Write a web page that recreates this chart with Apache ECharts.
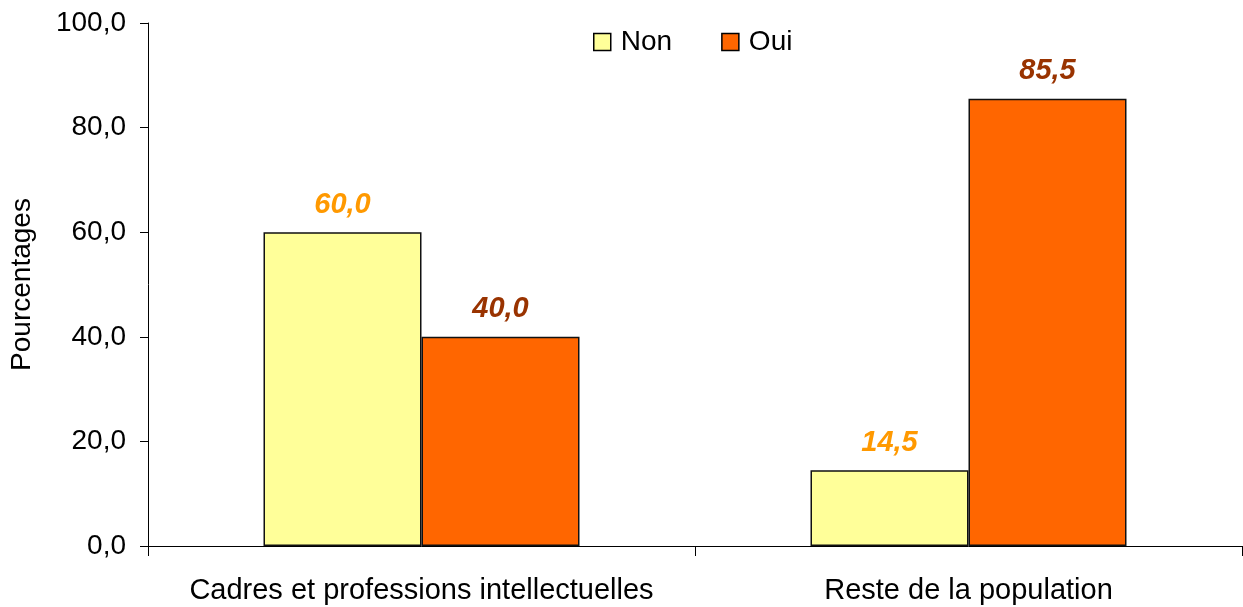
<!DOCTYPE html>
<html>
<head>
<meta charset="utf-8">
<script src="https://cdn.jsdelivr.net/npm/echarts@6/dist/echarts.min.js"></script>
<style>
  html, body { margin: 0; padding: 0; background: #fff; }
  #chart { width: 1243px; height: 607px; }
</style>
</head>
<body>
<div id="chart"></div>
<script>
// Chart data
const categories = ['Cadres et professions intellectuelles', 'Reste de la population'];
const nonValues = [60.0, 14.5];
const ouiValues = [40.0, 85.5];
const seriesNames = ['Non', 'Oui'];

const fmt = v => Number(v).toFixed(1).replace('.', ',');
const font = 'Liberation Sans, Arial, sans-serif';

const chart = echarts.init(document.getElementById('chart'));

chart.setOption({
    animation: false,
    textStyle: { fontFamily: font },
    legend: {
        top: 23,
        left: 588,
        itemWidth: 17,
        itemHeight: 17,
        itemGap: 49,
        icon: 'rect',
        textStyle: { fontSize: 28, color: '#000', fontFamily: font, padding: [0, 0, 0, 5] },
        data: seriesNames.map(n => ({ name: n, itemStyle: { borderColor: '#000', borderWidth: 1.5 } }))
    },
    grid: { left: 148, right: 1, top: 23, bottom: 61 },
    xAxis: {
        type: 'category',
        data: categories,
        axisLine: { lineStyle: { color: '#000', width: 1 } },
        axisTick: { show: true, length: 10, lineStyle: { color: '#000' } },
        axisLabel: { fontSize: 29, color: '#000', margin: 30, interval: 0, hideOverlap: false, fontFamily: font }
    },
    yAxis: {
        type: 'value',
        min: 0,
        max: 100,
        interval: 20,
        name: 'Pourcentages',
        nameLocation: 'middle',
        nameGap: 112,
        nameTextStyle: { fontSize: 28, color: '#000', fontFamily: font },
        axisLine: { show: true, lineStyle: { color: '#000', width: 1 } },
        axisTick: { show: true, length: 8, lineStyle: { color: '#000' } },
        splitLine: { show: false },
        axisLabel: { fontSize: 28, color: '#000', margin: 22, formatter: fmt, fontFamily: font }
    },
    series: [
        {
            name: 'Non',
            type: 'bar',
            data: nonValues,
            barWidth: 158,
            barGap: '0%',
            itemStyle: { color: '#FFFF99', borderColor: '#111', borderWidth: 1.5 },
            label: {
                show: true, position: 'top', distance: 13, formatter: p => fmt(p.value),
                color: '#FF9900', fontSize: 29, fontWeight: 'bold', fontStyle: 'italic', fontFamily: font
            }
        },
        {
            name: 'Oui',
            type: 'bar',
            data: ouiValues,
            barWidth: 158,
            barGap: '0%',
            itemStyle: { color: '#FF6600', borderColor: '#111', borderWidth: 1.5 },
            label: {
                show: true, position: 'top', distance: 13, formatter: p => fmt(p.value),
                color: '#993300', fontSize: 29, fontWeight: 'bold', fontStyle: 'italic', fontFamily: font
            }
        }
    ]
});
</script>
</body>
</html>
